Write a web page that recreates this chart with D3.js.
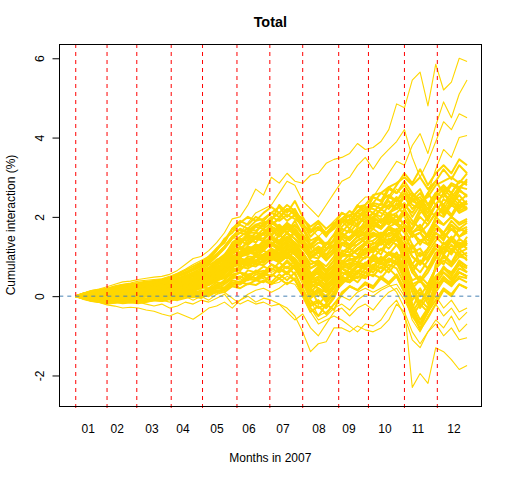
<!DOCTYPE html>
<html>
<head>
<meta charset="utf-8">
<script src="https://cdn.jsdelivr.net/npm/d3@7"></script>
<style>
  body { margin: 0; background: #fff; }
  svg { display: block; font-family: "Liberation Sans", Arial, sans-serif; }
</style>
</head>
<body>
<div id="chart"></div>
<script>
// trading day index (every 5th trading day of 2007)
const days = [1,6,11,16,21,26,31,36,41,46,51,56,61,66,71,76,81,86,91,96,101,106,111,116,121,126,131,136,141,146,151,156,161,166,171,176,181,186,191,196,201,206,211,216,221,226,231,236,241,246,251]

// first trading day of each month, and where the month labels sit
const monthStarts = [1, 21, 40, 62, 82, 104, 125, 146, 169, 188, 211, 232]
const monthMids = [9, 27.5, 49.7, 69.5, 91.2, 111.7, 133.4, 156.4, 175.6, 198.6, 219.6, 242.6]
const monthLabels = ['01', '02', '03', '04', '05', '06', '07', '08', '09', '10', '11', '12']
const yTicks = [-2, 0, 2, 4, 6]

// cumulative interaction (%) per portfolio, the main pack
const s01 = [0,.06,.12,.14,.18,.2,.27,.26,.3,.35,.33,.4,.45,.52,.6,.7,.82,.95,1.2,1.35,1.7,1.8,1.7,1.9,1.95,2.1,2.25,2.0,2.2,1.8,1.6,1.75,1.5,1.8,2.1,2.0,2.3,2.1,2.5,2.4,2.75,2.6,2.8,2.5,2.7,2.3,2.6,2.2,2.5,2.3,2.4]
const s02 = [0,-.05,-.08,-.05,-.1,-.06,-.09,-.02,-.05,.02,0,.08,.05,.14,.18,.22,.3,.38,.5,.62,.85,.75,.95,.9,1.05,1.2,1.05,1.3,1.15,.8,.5,.3,.5,.55,.9,.7,1.0,.95,1.2,1.05,1.4,1.3,1.0,1.3,.8,1.2,1.6,1.4,1.8,1.5,1.7]
const s03 = [0,.02,-.02,.03,0,.05,.02,.08,.06,.12,.15,.13,.22,.28,.35,.42,.5,.62,.8,1.0,1.35,1.5,1.65,1.8,1.75,1.95,2.1,1.9,2.05,1.7,1.3,1.45,1.2,1.3,1.45,1.3,1.5,1.35,1.6,1.45,1.7,1.5,1.3,.8,1.1,.9,1.3,1.1,1.4,1.2,1.3]
const s04 = [0,-.06,-.1,-.14,-.12,-.16,-.12,-.15,-.12,-.1,-.06,-.08,0,-.02,.06,.1,.05,.15,.3,.35,.5,.6,.45,.65,.6,.8,.65,.9,.7,.5,.1,.3,.2,.45,.8,.95,.85,1.2,1.1,1.45,1.3,1.6,1.2,.6,.9,.7,1.0,.8,1.2,1.0,1.1]
const s05 = [0,.04,.1,.06,.12,.15,.2,.18,.22,.18,.25,.3,.28,.36,.42,.5,.55,.7,.8,.95,1.15,1.2,1.1,1.3,1.2,1.45,1.3,1.5,1.35,1.2,.95,1.1,1.3,1.4,1.9,1.7,2.0,2.1,2.3,2.2,2.5,2.4,2.7,2.4,2.6,2.3,2.6,2.8,2.6,2.9,2.8]
const s06 = [0,0,-.03,.02,-.02,0,.04,0,.05,.08,.06,.12,.1,.18,.15,.25,.3,.4,.45,.65,.75,.8,.95,.8,.9,1.0,.85,1.0,.8,.5,.2,0,.2,.1,.45,.35,.6,.5,.55,.45,.7,.5,.1,-.5,-.2,-.4,.2,.5,.3,.6,.5]
const s07 = [0,.07,.1,.15,.13,.2,.24,.28,.26,.32,.35,.4,.38,.5,.58,.68,.8,.9,1.15,1.45,1.6,1.85,2.0,1.9,2.1,2.25,2.1,2.3,2.15,1.75,1.4,1.5,1.2,1.4,1.6,1.45,1.7,1.8,2.0,1.85,2.1,2.3,2.5,2.2,2.4,2.1,2.5,2.3,2.6,2.4,2.55]
const s08 = [0,-.02,-.05,-.02,-.06,-.03,0,-.02,.02,.05,.08,.06,.12,.18,.24,.3,.35,.45,.6,.7,.95,1.05,1.25,1.2,1.35,1.5,1.35,1.5,1.3,1.0,.7,.85,.6,.75,1.1,1.0,1.2,1.35,1.3,1.5,1.4,1.6,1.3,1.0,.8,1.1,1.4,1.6,1.4,1.7,1.6]
const s09 = [0,.03,.05,.03,.07,.05,.1,.12,.15,.12,.18,.2,.25,.22,.3,.35,.4,.55,.6,.75,.85,.9,.8,1.0,.9,1.1,.95,1.2,1.05,.85,.5,.65,.55,.8,1.3,1.5,1.6,1.9,2.0,2.2,2.3,2.5,2.2,1.6,1.4,1.5,1.8,1.5,1.7,1.5,1.65]
const s10 = [0,-.05,-.1,-.08,-.14,-.1,-.14,-.12,-.1,-.12,-.05,-.08,-.02,0,.02,.08,0,.1,.2,.3,.45,.5,.4,.55,.5,.7,.6,.75,.55,.2,-.2,-.1,-.3,0,.4,.5,.55,.8,.7,.95,.85,1.1,.6,-.2,-.6,-.3,.3,.6,.4,.7,.6]
const s11 = [0,.06,.13,.16,.19,.23,.28,.3,.33,.37,.38,.42,.47,.56,.65,.75,.85,1.0,1.2,1.4,1.7,1.9,1.8,2.0,1.9,2.1,2.0,2.2,2.05,1.85,1.5,1.7,1.55,1.7,1.95,1.85,2.1,2.0,2.3,2.2,2.4,2.2,2.35,2.0,2.3,2.0,2.3,2.05,2.35,2.1,2.2]
const s12 = [0,0,.03,-.01,.02,.04,.07,.04,.08,.1,.14,.12,.2,.23,.27,.35,.4,.5,.65,.8,1.0,1.1,1.05,1.2,1.15,1.35,1.25,1.4,1.3,.95,.6,.55,.4,.6,.7,.55,.6,.5,.75,.6,.9,.8,1.2,1.6,1.8,1.5,2.0,2.2,2.0,2.3,2.2]
const s13 = [0,-.01,-.04,-.01,-.04,0,-.02,.04,.02,.06,.1,.15,.14,.22,.3,.38,.45,.6,.78,.95,1.2,1.35,1.5,1.45,1.6,1.75,1.6,1.8,1.65,1.4,1.1,1.25,1.05,1.3,1.7,1.6,1.85,1.95,2.1,2.0,2.3,2.2,2.6,2.4,2.5,2.2,2.0,1.8,2.0,1.8,1.9]
const s14 = [0,-.03,-.06,-.04,-.08,-.05,-.03,-.06,-.03,-.06,0,-.03,.04,.02,.08,.14,.1,.18,.25,.35,.5,.6,.5,.6,.55,.8,.7,.9,.7,.4,0,.2,-.05,.2,.6,.5,.75,.7,.95,.85,1.1,.95,.5,-.1,.2,-.2,.3,.4,.25,.5,.45]
const s15 = [0,.05,.07,.11,.1,.15,.19,.16,.22,.24,.22,.3,.33,.38,.45,.52,.6,.72,.85,1.0,1.25,1.4,1.3,1.45,1.4,1.65,1.5,1.7,1.55,1.3,1.0,1.15,.9,1.15,1.5,1.45,1.65,1.6,1.9,1.75,2.0,2.1,2.3,2.1,2.4,2.2,2.6,2.75,2.6,2.9,2.85]
const s16 = [0,-.07,-.12,-.15,-.18,-.15,-.18,-.16,-.18,-.14,-.1,-.12,-.06,-.08,0,.05,0,.1,.25,.4,.6,.7,.8,.75,.9,1.05,.95,1.1,.9,.6,.3,.45,.25,.5,.85,.9,1.0,1.2,1.15,1.4,1.3,1.55,1.2,.8,.6,.9,1.3,1.2,1.5,1.3,1.4]
const s17 = [0,.03,.06,.05,.09,.08,.12,.15,.17,.2,.22,.25,.3,.35,.4,.45,.55,.68,.85,1.0,1.3,1.45,1.4,1.6,1.55,1.75,1.65,1.85,1.7,1.45,1.1,1.2,.95,1.1,1.3,1.2,1.4,1.5,1.6,1.5,1.75,1.85,2.2,2.4,2.3,2.1,2.5,2.7,2.5,2.75,2.7]
const s18 = [0,.01,0,.04,.02,.05,.03,.07,.06,.1,.12,.1,.17,.2,.22,.28,.35,.42,.5,.65,.8,.9,.85,1.0,.95,1.15,1.05,1.2,1.1,.85,.55,.7,.5,.7,1.1,1.25,1.3,1.45,1.6,1.5,1.75,1.65,.9,-.3,.1,-.1,.8,1.2,1.4,1.2,1.5]
const s19 = [0,.02,.04,.01,.05,.06,.09,.07,.11,.14,.17,.2,.22,.28,.32,.4,.45,.58,.72,.88,1.1,1.2,1.35,1.5,1.6,1.8,1.95,2.2,2.1,1.95,1.75,1.9,1.7,1.85,1.95,1.8,2.0,1.85,2.1,1.9,2.1,2.0,1.8,1.5,1.6,1.3,1.6,1.45,1.7,1.5,1.6]
const s20 = [0,-.02,-.04,-.07,-.05,-.08,-.04,-.06,-.03,0,.03,.02,.08,.1,.15,.2,.25,.35,.45,.6,.8,.9,.85,1.0,1.05,1.15,1.0,1.1,.85,.45,-.1,-.3,-.2,.1,.5,.4,.65,.6,.8,.7,.95,.85,.4,-.4,-.1,-.3,.4,.7,.6,.85,.75]
const s21 = [0,.05,.09,.13,.12,.17,.21,.23,.27,.3,.28,.35,.4,.45,.5,.58,.65,.78,.9,1.05,1.3,1.4,1.3,1.5,1.45,1.7,1.55,1.75,1.6,1.4,1.2,1.35,1.3,1.55,1.95,1.9,2.15,2.3,2.55,2.6,2.75,2.85,3.0,2.8,3.0,2.7,2.9,2.6,2.85,2.75,2.9]
const s22 = [0,0,-.02,.01,-.01,.02,0,.03,.05,.04,.1,.12,.15,.2,.25,.3,.38,.48,.6,.78,.95,1.05,1.15,1.1,1.25,1.35,1.2,1.35,1.2,.85,.5,.4,.3,.45,.75,.7,.85,.8,1.05,.9,1.1,1.0,.8,.3,.4,.1,.5,.7,.6,.8,.7]
const s23 = [0,.04,.07,.06,.1,.12,.14,.13,.18,.16,.2,.24,.26,.3,.35,.42,.48,.6,.7,.82,1.0,1.05,1.15,1.05,1.2,1.35,1.2,1.4,1.25,1.1,.8,.9,.65,.9,1.35,1.3,1.5,1.6,1.85,1.7,1.95,1.8,2.1,1.8,2.2,1.9,2.3,2.1,2.4,2.2,2.35]
const s24 = [0,-.04,-.07,-.1,-.08,-.12,-.1,-.13,-.1,-.13,-.09,-.12,-.08,-.1,-.05,0,-.05,.05,.1,.18,.3,.35,.3,.4,.35,.55,.45,.6,.4,.1,-.25,-.15,-.3,-.05,.4,.35,.5,.45,.7,.6,.8,.7,.3,-.4,-.7,-.3,.2,.45,.35,.6,.5]
const s25 = [0,.07,.11,.15,.17,.22,.25,.3,.32,.34,.37,.41,.45,.52,.6,.66,.75,.85,1.05,1.25,1.5,1.6,1.55,1.75,1.7,1.85,1.7,1.8,1.6,1.3,1.0,1.1,.9,1.1,1.35,1.25,1.4,1.5,1.7,1.55,1.75,1.65,1.9,1.7,2.0,1.8,2.1,2.0,2.3,2.15,2.25]
const s26 = [0,-.01,-.03,-.05,-.02,-.05,-.02,-.04,-.01,.02,0,.05,.06,.1,.12,.18,.2,.28,.38,.5,.65,.75,.7,.82,.78,.95,.85,1.0,.85,.55,.25,.35,.2,.45,.85,.8,1.0,1.05,1.25,1.15,1.4,1.5,1.8,1.7,2.1,2.2,2.6,2.5,2.8,2.7,2.95]
const s27 = [0,.01,.03,.05,.03,.07,.06,.1,.12,.11,.15,.19,.2,.26,.3,.36,.42,.55,.68,.85,1.05,1.2,1.15,1.3,1.25,1.5,1.4,1.6,1.45,1.3,1.1,1.25,1.15,1.45,1.95,2.05,2.1,2.25,2.2,2.1,2.0,1.85,1.7,1.3,1.0,1.2,1.5,1.3,1.5,1.25,1.35]
const s28 = [0,-.06,-.11,-.13,-.16,-.14,-.16,-.12,-.14,-.08,-.05,0,.02,.1,.15,.22,.3,.42,.55,.7,.9,1.0,1.1,1.05,1.2,1.3,1.15,1.3,1.15,.8,.4,.3,.15,.35,.7,.6,.8,.75,1.0,.85,1.05,.95,.8,.4,.5,.3,.7,.9,.75,1.0,.95]
const s29 = [0,.05,.08,.1,.13,.16,.14,.2,.24,.26,.3,.33,.36,.45,.52,.6,.7,.82,1.0,1.2,1.45,1.6,1.7,1.65,1.8,2.0,1.9,2.05,1.95,1.8,1.65,1.75,1.6,1.8,2.1,2.0,2.25,2.3,2.5,2.4,2.55,2.4,2.6,2.3,2.2,2.0,2.3,2.1,2.4,2.25,2.35]
const s30 = [0,.01,.02,-.01,.03,.01,.04,.02,.05,.07,.05,.1,.12,.15,.18,.24,.28,.36,.45,.58,.72,.82,.78,.88,.85,1.0,.9,1.05,.95,.7,.4,.5,.35,.6,1.05,1.0,1.2,1.3,1.55,1.45,1.7,1.6,1.75,1.5,1.6,1.4,1.8,1.6,1.9,1.7,1.85]
const s31 = [0,.03,.06,.08,.05,.1,.08,.13,.15,.17,.14,.2,.22,.25,.3,.35,.38,.45,.55,.65,.8,.85,.8,.9,.85,1.05,.95,1.1,.95,.7,.35,.4,.25,.45,.7,.6,.75,.7,.9,.8,.95,.85,.6,.2,.4,.2,.5,.6,.45,.6,.5]
const s32 = [0,.05,.09,.12,.15,.19,.23,.22,.26,.28,.3,.33,.38,.42,.48,.55,.6,.72,.82,.95,1.15,1.25,1.15,1.3,1.25,1.45,1.3,1.45,1.35,1.1,.8,.9,.75,1.0,1.5,1.4,1.6,1.75,1.95,1.85,2.1,2.2,2.5,2.6,2.4,2.5,2.8,2.9,3.0,2.85,3.1]
const s33 = [0,-.05,-.09,-.12,-.15,-.11,-.13,-.1,-.12,-.08,-.06,-.02,0,.05,.1,.15,.2,.3,.4,.55,.75,.85,.75,.9,.85,1.1,1.0,1.15,1.05,.8,.45,.6,.4,.65,1.0,1.05,1.15,1.35,1.4,1.55,1.5,1.6,.7,-.5,-.8,-.4,.1,.4,.3,.45,.35]
const s34 = [0,0,.02,0,.03,.02,.06,.05,.08,.11,.15,.18,.2,.26,.32,.4,.48,.62,.78,.95,1.2,1.35,1.5,1.45,1.6,1.75,1.65,1.8,1.6,1.3,.9,.8,.6,.8,1.1,1.0,1.2,1.15,1.35,1.3,1.45,1.4,1.5,1.2,1.4,1.3,1.7,1.6,1.8,1.65,1.75]
const s35 = [0,-.02,-.01,-.04,-.02,-.04,0,-.02,0,.03,.06,.05,.1,.15,.2,.26,.3,.4,.52,.65,.85,.95,.9,1.05,1.0,1.2,1.1,1.25,1.1,.85,.55,.65,.45,.7,1.15,1.1,1.3,1.45,1.5,1.6,1.55,1.7,1.4,1.0,.8,1.0,1.3,1.2,1.4,1.25,1.35]
const s36 = [0,.05,.1,.12,.15,.16,.2,.24,.26,.3,.33,.37,.4,.5,.56,.65,.75,.88,1.05,1.25,1.5,1.7,1.6,1.8,1.85,1.9,1.75,1.6,1.3,.8,.3,.2,.1,.4,.8,.75,1.0,1.1,1.35,1.3,1.6,1.55,1.8,1.6,1.7,1.5,1.9,1.8,2.0,1.85,1.95]
const s37 = [0,-.03,-.05,-.02,-.06,-.03,-.05,-.01,-.03,0,.05,.08,.12,.18,.24,.3,.38,.5,.62,.78,1.0,1.1,1.2,1.15,1.3,1.45,1.35,1.5,1.35,1.05,.7,.8,.65,.9,1.35,1.3,1.5,1.55,1.8,1.7,1.9,1.8,1.6,1.1,1.2,.9,1.2,1.05,1.3,1.1,1.2]
const s38 = [0,.04,.06,.08,.07,.11,.09,.14,.12,.15,.13,.18,.17,.2,.22,.26,.3,.32,.4,.45,.55,.6,.55,.6,.55,.8,.7,.85,.7,.4,.05,.15,0,.25,.6,.55,.75,.8,1.0,.9,1.1,1.05,1.0,.7,.9,.7,1.1,1.2,1.1,1.35,1.3]
const s39 = [0,.02,-.03,-.06,-.03,-.08,-.05,-.1,-.06,-.1,-.04,-.06,0,.04,0,.06,.12,.08,.2,.18,.35,.3,.45,.4,.5,.35,.55,.4,.6,.1,-.3,-.5,-.2,-.35,.1,.25,.15,.3,.2,.45,.3,.5,.1,-.3,-.7,-.4,-.1,.2,.05,.3,.2]
const s40 = [0,.03,.08,.05,.1,.09,.16,.13,.2,.16,.24,.2,.3,.28,.4,.38,.55,.5,.75,.7,1.0,.95,1.25,1.15,1.4,1.25,1.55,1.4,1.65,1.5,1.3,1.1,1.35,1.2,1.5,1.65,1.5,1.7,1.9,1.75,2.05,1.9,2.2,2.5,2.2,2.6,2.3,2.6,2.3,2.55,2.3]
const s41 = [0,-.03,0,-.05,-.02,-.07,-.03,-.08,-.04,-.07,-.02,-.04,.02,0,.07,.05,.15,.12,.25,.22,.4,.35,.5,.45,.6,.5,.7,.55,.75,.45,0,.15,-.1,.1,.3,.5,.35,.6,.5,.75,.6,.85,.5,.2,-.2,.1,.4,.7,.5,.8,.6]
const s42 = [0,.01,.05,.02,.06,.03,.08,.05,.1,.07,.13,.1,.18,.16,.25,.22,.35,.3,.5,.45,.7,.65,.9,.85,1.05,.95,1.2,1.05,1.25,.9,.55,.75,.5,.7,1.0,1.2,1.05,1.3,1.2,1.45,1.3,1.55,1.1,.7,.4,.7,1.0,1.35,1.15,1.45,1.3]
const s43 = [0,.04,.1,.08,.14,.12,.19,.17,.24,.21,.27,.25,.33,.35,.46,.44,.6,.58,.85,.82,1.15,1.1,1.45,1.35,1.6,1.5,1.8,1.6,1.9,1.55,1.25,1.45,1.2,1.4,1.75,1.95,1.8,2.05,1.95,2.2,2.05,2.35,2.0,1.6,1.3,1.6,1.95,2.3,2.05,2.4,2.2]
const s44 = [0,-.05,-.02,-.08,-.06,-.12,-.08,-.14,-.09,-.13,-.07,-.1,-.04,-.07,0,-.03,.05,0,.12,.1,.25,.2,.32,.28,.4,.3,.45,.3,.45,0,-.4,-.25,-.45,-.2,.05,.25,.15,.35,.25,.5,.35,.55,.2,-.4,-.85,-.55,-.2,.15,0,.3,.2]
const s45 = [0,.06,.04,.1,.08,.14,.12,.18,.16,.22,.2,.28,.26,.33,.32,.42,.45,.55,.6,.75,.85,1.0,1.05,1.25,1.2,1.45,1.35,1.6,1.45,1.2,1.0,.95,1.2,1.25,1.6,1.85,1.75,2.1,2.35,2.3,2.7,2.6,2.9,2.6,2.3,2.6,2.9,3.2,2.95,3.3,3.1]
const s46 = [0,-.01,.03,-.01,.04,0,.05,.01,.06,.02,.08,.05,.12,.1,.15,.12,.22,.2,.35,.32,.5,.45,.65,.6,.75,.65,.85,.7,.9,.55,.2,.35,.1,.25,.5,.7,.6,.85,.75,1.0,.85,1.1,.7,.3,0,.3,.7,1.0,.8,1.1,.9]
const s47 = [0,.05,.03,.09,.07,.13,.1,.17,.15,.2,.18,.25,.23,.32,.35,.46,.58,.62,.85,.9,1.25,1.3,1.6,1.6,1.85,1.9,2.3,2.1,2.4,2.0,1.65,1.85,1.55,1.75,1.95,2.15,2.0,2.2,2.1,2.35,2.2,2.45,2.2,1.9,1.7,2.0,2.3,2.6,2.4,2.7,2.5]
const s48 = [0,0,.04,.01,.05,.02,.07,.03,.08,.04,.1,.08,.15,.13,.2,.2,.28,.3,.45,.48,.65,.65,.85,.85,1.0,.9,1.1,.95,1.15,.85,.45,.6,.35,.55,.85,1.05,.95,1.2,1.1,1.35,1.2,1.45,1.0,.3,-.2,.2,.7,1.05,.85,1.2,1.0]
const s49 = [0,-.04,-.01,-.06,-.04,-.1,-.06,-.11,-.07,-.11,-.06,-.09,-.03,-.05,.02,0,.08,.05,.15,.15,.28,.3,.42,.42,.55,.5,.7,.6,.8,.4,-.05,.1,-.15,.05,.35,.55,.45,.7,.6,.85,.7,.95,.6,.1,-.3,0,.4,.75,.55,.9,.75]
const s50 = [0,.04,.08,.07,.12,.1,.15,.14,.18,.16,.22,.2,.27,.27,.35,.36,.48,.5,.7,.72,.95,.98,1.2,1.2,1.4,1.3,1.55,1.4,1.6,1.35,1.05,1.25,1.0,1.2,1.45,1.7,1.55,1.8,1.7,1.95,1.8,2.05,1.8,1.5,1.6,1.8,2.1,2.45,2.3,2.65,2.55]
const s51 = [0,.02,0,.04,.01,.06,.03,.08,.05,.1,.08,.13,.1,.16,.18,.25,.32,.35,.52,.55,.78,.8,1.0,.98,1.15,1.05,1.25,1.05,1.2,.7,.2,-.2,0,.3,.7,.85,.8,1.0,.95,1.2,1.05,1.3,1.05,.6,.35,.6,.95,1.25,1.05,1.35,1.2]
const s52 = [0,.06,.11,.1,.16,.14,.21,.2,.25,.23,.3,.29,.36,.38,.5,.52,.66,.7,.92,.98,1.3,1.3,1.55,1.5,1.7,1.55,1.8,1.6,1.8,1.55,1.3,1.5,1.3,1.55,1.85,2.05,1.9,2.2,2.35,2.6,2.5,2.8,3.1,2.85,3.2,2.8,3.1,3.3,3.1,3.45,3.3]

// the few portfolios that leave the pack
const topA = [0,.08,.14,.18,.24,.3,.36,.38,.42,.45,.48,.5,.55,.65,.8,.95,1.0,1.15,1.35,1.6,1.95,2.0,2.3,2.7,2.55,3.0,2.85,3.1,2.9,2.85,3.05,3.1,3.35,3.45,3.5,3.6,3.85,3.7,3.75,3.9,4.2,4.85,4.75,5.45,5.65,4.8,5.85,5.2,5.4,6.0,5.92]
const topB = [0,.05,.1,.1,.15,.2,.25,.3,.32,.35,.4,.42,.45,.5,.6,.7,.8,.9,1.0,1.2,1.5,1.4,1.6,1.8,1.9,1.8,2.0,2.2,2.2,1.9,1.7,1.5,1.7,1.9,2.1,2.0,2.3,2.5,2.5,2.8,3.1,3.4,3.3,3.8,4.1,3.6,4.3,4.9,4.5,5.1,5.45]
const topD = [0,.06,.1,.16,.2,.26,.3,.33,.38,.4,.42,.44,.5,.58,.68,.8,.9,1.0,1.15,1.35,1.7,1.6,1.85,2.1,2.2,2.3,2.6,2.9,2.8,2.4,2.2,2.0,2.3,2.6,2.9,3.0,3.3,3.5,3.2,3.5,3.7,3.9,4.2,3.5,3.0,3.4,3.9,4.4,4.2,4.6,4.5]
const topE = [0,.04,.08,.06,.1,.16,.2,.2,.25,.27,.3,.3,.35,.4,.45,.55,.6,.7,.8,1.0,1.25,1.1,1.3,1.45,1.55,1.45,1.6,1.8,1.75,1.45,1.2,1.0,1.15,1.3,1.55,1.5,1.75,2.0,1.95,2.2,2.45,2.7,2.5,2.3,2.2,2.6,3.2,3.7,3.5,4.0,4.05]
const lowL1 = [0,-.05,-.1,-.12,-.15,-.12,-.1,-.1,-.08,-.1,-.05,-.02,0,.05,.1,.1,.12,.2,.25,.35,.5,.4,.5,.6,.65,.6,.7,.75,.7,.3,-.1,-.5,-.4,-.2,0,-.1,.1,.2,.1,.2,.3,.1,-.3,-2.3,-1.95,-2.2,-1.3,-1.4,-1.6,-1.85,-1.75]
const lowL2 = [0,-.06,-.1,-.15,-.2,-.18,-.15,-.12,-.15,-.2,-.25,-.2,-.3,-.25,-.15,-.2,-.1,-.15,-.05,.05,-.2,-.1,0,-.15,-.05,-.1,-.2,-.3,-.5,-.9,-1.4,-1.2,-1.15,-.8,-.8,-.9,-.75,-.85,-.9,-.8,-.6,-.2,-.4,-.9,-1.2,-.9,-.6,-.8,-.5,-.9,-.7]
const lowL3 = [0,-.07,-.13,-.16,-.22,-.25,-.3,-.28,-.3,-.35,-.38,-.45,-.5,-.42,-.5,-.58,-.45,-.3,-.25,-.15,-.3,-.1,.05,.15,.2,.1,.2,.35,.3,0,-.3,-.6,-.5,-.3,-.2,-.35,-.1,.05,0,.15,.25,.3,0,-.6,-.9,-.5,-.2,-.5,-.3,-.6,-.4]
const lowL4 = [0,-.04,-.08,-.05,-.1,-.08,-.1,-.05,-.1,-.15,-.12,-.1,-.15,-.05,0,-.1,0,.1,.05,.2,.35,.2,.3,.4,.45,.3,.35,.5,.4,0,-.4,-.7,-.6,-.5,-.6,-.75,-.9,-.7,-.75,-.6,-.3,-.1,-.5,-1.1,-1.3,-.9,-.7,-1.0,-.8,-1.1,-1.05]
const lowL5 = [0,-.03,-.08,-.1,-.15,-.1,-.12,-.08,-.05,-.1,-.08,-.12,-.05,0,.05,.05,0,-.1,.05,.1,-.05,-.2,-.1,-.2,-.15,-.25,-.2,-.4,-.6,-.45,-.8,-1.0,-.7,-.4,-.3,-.5,-.3,-.2,-.35,-.1,.1,.2,-.1,-.5,-.7,-.4,0,-.3,-.1,-.4,-.3]

const pack = [s01, s02, s03, s04, s05, s06, s07, s08, s09, s10, s11, s12, s13, s14, s15, s16, s17, s18, s19,
  s20, s21, s22, s23, s24, s25, s26, s27, s28, s29, s30, s31, s32, s33, s34, s35, s36, s37, s38,
  s39, s40, s41, s42, s43, s44, s45, s46, s47, s48, s49, s50, s51, s52]
const strays = [topA, topB, topD, topE, lowL1, lowL2, lowL3, lowL4, lowL5]

const width = 512
const height = 480
const plot = { left: 59.3, right: 481.3, top: 44, bottom: 406 }

const x = d3.scaleLinear()
  .domain([-9.5, 260.1])
  .range([plot.left, plot.right])

const y = d3.scaleLinear()
  .domain([-2.77, 6.36])
  .range([plot.bottom, plot.top])

const svg = d3.select('#chart').append('svg')
  .attr('width', width)
  .attr('height', height)

const line = d3.line()
  .defined((d, i) => i < days.length)
  .x((d, i) => x(days[i]))
  .y(d => y(d))

const drawLines = (data, w) => {
  svg.append('g')
    .selectAll('path')
    .data(data).enter()
    .append('path')
    .attr('d', line)
    .attr('fill', 'none')
    .attr('stroke', '#FFD700')
    .attr('stroke-width', w)
    .attr('stroke-linejoin', 'round')
}
drawLines(pack, 2)
drawLines(strays, 1.1)

// month boundaries
svg.append('g')
  .selectAll('line')
  .data(monthStarts).enter()
  .append('line')
  .attr('x1', d => x(d))
  .attr('x2', d => x(d))
  .attr('y1', plot.top)
  .attr('y2', plot.bottom + 5)
  .attr('stroke', 'red')
  .attr('stroke-dasharray', '4,4')

// zero line
svg.append('line')
  .attr('x1', plot.left)
  .attr('x2', plot.right)
  .attr('y1', y(0))
  .attr('y2', y(0))
  .attr('stroke', '#4682B4')
  .attr('stroke-dasharray', '4,4')

svg.append('rect')
  .attr('x', Math.round(plot.left) + 0.5)
  .attr('y', plot.top + 0.5)
  .attr('width', plot.right - plot.left)
  .attr('height', plot.bottom - plot.top)
  .attr('fill', 'none')
  .attr('stroke', '#000')

// y axis
const yAxis = svg.append('g')
  .attr('transform', `translate(${Math.round(plot.left) + 0.5},0)`)
  .call(d3.axisLeft(y).tickValues(yTicks).tickSize(7).tickFormat(d => String(d)))
yAxis.select('.domain').remove()
yAxis.selectAll('.tick line').attr('stroke', '#000')
yAxis.selectAll('.tick text')
  .attr('x', null).attr('dy', null)
  .attr('transform', 'translate(-16,0) rotate(-90)')
  .attr('text-anchor', 'middle')
  .attr('font-size', 12)
  .attr('font-family', '"Liberation Sans", Arial, sans-serif')
  .attr('fill', '#000')

// month labels
svg.append('g')
  .selectAll('text')
  .data(monthLabels).enter()
  .append('text')
  .attr('x', (d, i) => x(monthMids[i]))
  .attr('y', 433)
  .attr('text-anchor', 'middle')
  .attr('font-size', 12)
  .text(d => d)

svg.append('text')
  .attr('x', (plot.left + plot.right) / 2)
  .attr('y', 27)
  .attr('text-anchor', 'middle')
  .attr('font-size', 14.4)
  .attr('font-weight', 'bold')
  .text('Total')

svg.append('text')
  .attr('x', (plot.left + plot.right) / 2)
  .attr('y', 462)
  .attr('text-anchor', 'middle')
  .attr('font-size', 12)
  .text('Months in 2007')

svg.append('text')
  .attr('transform', `translate(15,${(plot.top + plot.bottom) / 2}) rotate(-90)`)
  .attr('text-anchor', 'middle')
  .attr('font-size', 12)
  .text('Cumulative interaction (%)')
</script>
</body>
</html>
